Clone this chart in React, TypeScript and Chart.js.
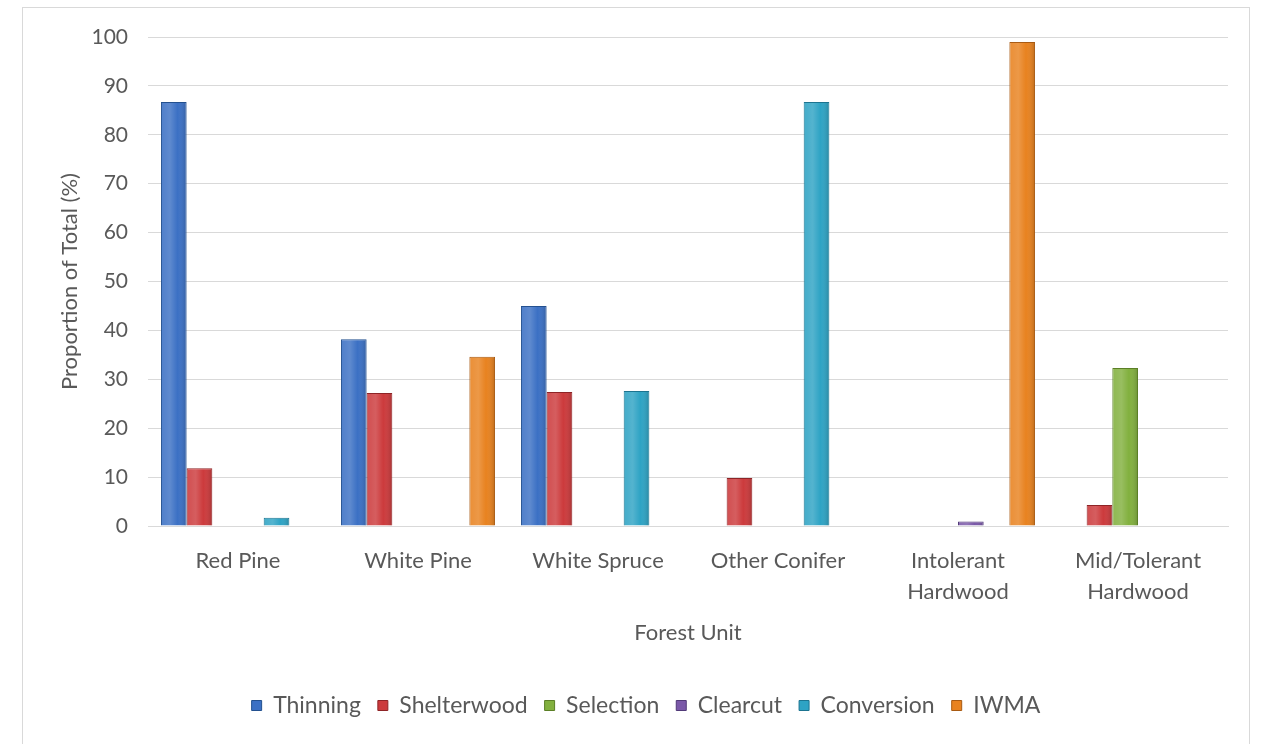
import React, { useEffect, useRef } from "react";
import { Chart, registerables } from "chart.js";

Chart.register(...registerables);

const categories: (string | string[])[] = [
  "Red Pine",
  "White Pine",
  "White Spruce",
  "Other Conifer",
  ["Intolerant", "Hardwood"],
  ["Mid/Tolerant", "Hardwood"],
];

const thinning = [86.7, 38.2, 45.0, null, null, null];
const shelterwood = [11.8, 27.2, 27.4, 9.8, null, 4.3];
const selection = [null, null, null, null, null, 32.3];
const clearcut = [null, null, null, null, 0.9, null];
const conversion = [1.7, null, 27.6, 86.7, null, null];
const iwma = [null, 34.6, null, null, 99.0, null];

const seriesNames = ["Thinning", "Shelterwood", "Selection", "Clearcut", "Conversion", "IWMA"];
const seriesColors = ["#3b70c4", "#cc3a3c", "#82b03e", "#7a58a8", "#2ea3c4", "#e8821f"];
const seriesBorders = ["#23508f", "#8e2426", "#5b7f26", "#513a78", "#1c7490", "#a85a12"];

const FONT = "Lato, 'Open Sans', sans-serif";
const TEXT = "#595959";

const barShade = {
  id: "barShade",
  afterDatasetsDraw(chart: any) {
    const ctx = chart.ctx;
    chart.data.datasets.forEach((_: any, di: number) => {
      const meta = chart.getDatasetMeta(di);
      meta.data.forEach((bar: any, i: number) => {
        const v = chart.data.datasets[di].data[i];
        if (v == null) return;
        const { x, y, base, width } = bar.getProps(["x", "y", "base", "width"], true);
        const l = x - width / 2;
        const g = ctx.createLinearGradient(l, 0, l + width, 0);
        g.addColorStop(0, "rgba(255,255,255,0.10)");
        g.addColorStop(0.35, "rgba(255,255,255,0.18)");
        g.addColorStop(0.65, "rgba(255,255,255,0.0)");
        g.addColorStop(1, "rgba(0,0,0,0.18)");
        ctx.save();
        ctx.fillStyle = g;
        ctx.fillRect(l + 1, y + 1, width - 2, base - y - 1);
        ctx.restore();
      });
    });
  },
};

export default function App() {
  const ref = useRef<HTMLCanvasElement>(null);
  useEffect(() => {
    const values = [thinning, shelterwood, selection, clearcut, conversion, iwma];
    const chart = new Chart(ref.current!, {
      type: "bar",
      data: {
        labels: categories,
        datasets: values.map((d, i) => ({
          label: seriesNames[i],
          data: d,
          backgroundColor: seriesColors[i],
          borderColor: seriesBorders[i],
          borderWidth: 1,
          categoryPercentage: 0.856,
          barPercentage: 1,
        })),
      },
      options: {
        animation: false,
        responsive: false,
        maintainAspectRatio: false,
        layout: { padding: { left: 64, right: 33, top: 37, bottom: 17 } },
        plugins: {
          tooltip: { enabled: false },
          legend: {
            position: "bottom",
            labels: {
              boxWidth: 10,
              boxHeight: 10,
              padding: 17,
              color: TEXT,
              font: { family: FONT, size: 23 },
            },
          },
        },
        scales: {
          x: {
            afterFit: (s: any) => {
              s.height = 151;
            },
            grid: { display: false, drawTicks: false },
            border: { color: "#d9d9d9", width: 1 },
            ticks: {
              color: TEXT,
              padding: 20,
              maxRotation: 0,
              font: { family: FONT, size: 22, lineHeight: 1.4 },
            },
            title: {
              display: true,
              text: "Forest Unit",
              color: TEXT,
              padding: { top: 0, bottom: 31 },
              font: { family: FONT, size: 22 },
            },
          },
          y: {
            min: 0,
            max: 100,
            afterFit: (s: any) => {
              s.width = 84;
            },
            grid: { color: "#d9d9d9", drawTicks: false },
            border: { display: false },
            ticks: {
              stepSize: 10,
              color: TEXT,
              padding: 20,
              font: { family: FONT, size: 21 },
            },
            title: {
              display: true,
              text: "Proportion of Total (%)",
              color: TEXT,
              padding: { top: -7, bottom: 0 },
              font: { family: FONT, size: 22 },
            },
          },
        },
      },
      plugins: [barShade],
    });
    return () => chart.destroy();
  }, []);
  return (
    <div style={{ position: "fixed", left: 0, top: 0, width: 1261, height: 744, background: "#fff", overflow: "hidden" }}>
      <div
        style={{
          position: "absolute",
          left: 22,
          top: 7,
          width: 1226,
          height: 800,
          border: "1px solid #d9d9d9",
        }}
      />
      <canvas ref={ref} width={1261} height={744} style={{ position: "absolute", left: 0, top: 0, width: 1261, height: 744 }} />
    </div>
  );
}
